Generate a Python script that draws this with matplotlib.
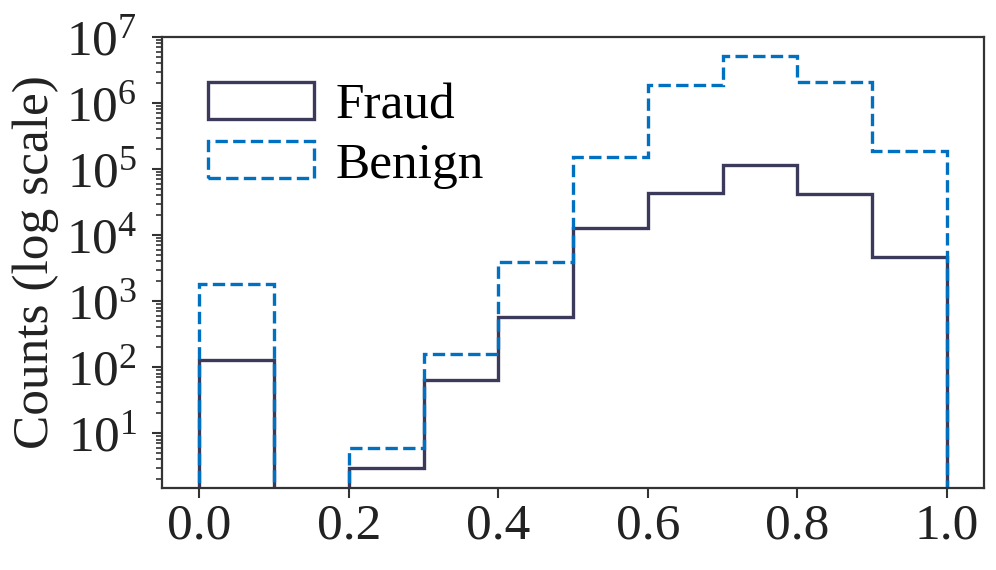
import numpy as np
import matplotlib
matplotlib.use("Agg")
import matplotlib.pyplot as plt
from matplotlib.ticker import LogLocator, NullFormatter

bin_edges = [0.0, 0.1, 0.2, 0.3, 0.4, 0.5, 0.6, 0.7, 0.8, 0.9, 1.0]
fraud_counts = [128, 0, 3, 63, 575, 13000, 43000, 117000, 42000, 4700]
benign_counts = [1820, 0, 6, 157, 3900, 152000, 1.86e6, 5.1e6, 2.1e6, 1.86e5]
series_labels = ["Fraud", "Benign"]

plt.rcParams['font.family'] = ['Liberation Serif', 'DejaVu Serif']
plt.rcParams['mathtext.fontset'] = 'custom'
plt.rcParams['mathtext.rm'] = 'Liberation Serif'
plt.rcParams['mathtext.it'] = 'Liberation Serif:italic'

fig = plt.figure(figsize=(9.96, 5.70), dpi=100)
ax = fig.add_axes([0.1627, 0.144, 0.988 - 0.1627, 0.935 - 0.144])

edges = np.array(bin_edges)
centers = (edges[:-1] + edges[1:]) / 2

ax.hist(centers, bins=edges, weights=fraud_counts, histtype='step', log=True,
        color='#3b3a5a', linewidth=2.4, label=series_labels[0])
ax.hist(centers, bins=edges, weights=benign_counts, histtype='step', log=True,
        color='#0070c0', linewidth=2.4, linestyle='--', label=series_labels[1])

ax.set_xlim(-0.05, 1.05)
ax.set_ylim(1.48, 1e7)
ax.set_xticks([0.0, 0.2, 0.4, 0.6, 0.8, 1.0])
ax.set_xticklabels(["0.0", "0.2", "0.4", "0.6", "0.8", "1.0"])
ax.set_yticks([1e1, 1e2, 1e3, 1e4, 1e5, 1e6, 1e7])
ax.yaxis.set_minor_locator(LogLocator(base=10, subs=np.arange(2, 10), numticks=100))
ax.yaxis.set_minor_formatter(NullFormatter())

ax.set_ylabel("Counts (log scale)", fontsize=37, color='#222222', labelpad=5)
ax.tick_params(axis='both', which='major', labelsize=37, length=7, width=1.5,
               color='#333333', labelcolor='#222222', direction='out')
ax.tick_params(axis='y', which='major', pad=11)
ax.tick_params(axis='y', which='minor', length=4, width=1.2, color='#333333')
for s in ax.spines.values():
    s.set_color('#333333')
    s.set_linewidth(1.6)

ax.legend(loc='upper left', fontsize=37, frameon=False,
          bbox_to_anchor=(0.056, 0.90), handlelength=2.06, handleheight=0.74,
          labelspacing=0.22, handletextpad=0.43, borderaxespad=0.0, borderpad=0.0)

fig.savefig("out.png", dpi=100)
